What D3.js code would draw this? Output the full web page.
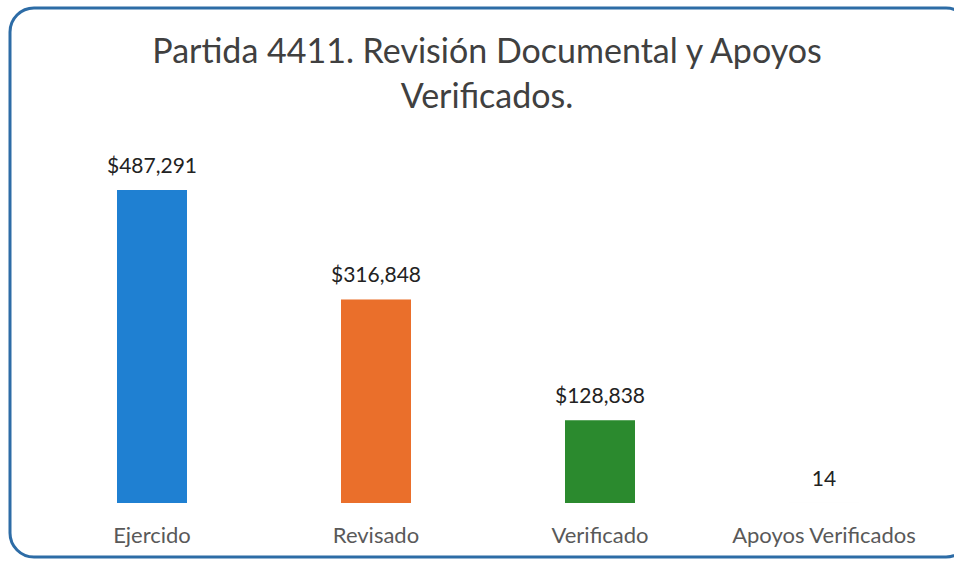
<!DOCTYPE html>
<html>
<head>
<meta charset="utf-8">
<script src="https://cdn.jsdelivr.net/npm/d3@7"></script>
<style>
  body { margin: 0; background: #fff; }
  svg { display: block; }
</style>
</head>
<body>
<div id="chart"></div>
<script>
var categories = ["Ejercido", "Revisado", "Verificado", "Apoyos Verificados"];
var values = [487291, 316848, 128838, 14];
var valueLabels = ["$487,291", "$316,848", "$128,838", "14"];
var colors = ["#1f80d2", "#ea6f2b", "#2b8a2e", "#7f7f7f"];
var titleLines = ["Partida 4411. Revisión Documental y Apoyos", "Verificados."];

var width = 954, height = 562;
var font = "Lato, 'Open Sans', sans-serif";

var svg = d3.select("#chart")
    .append("svg")
    .attr("width", width)
    .attr("height", height);

// frame
svg.append("rect")
    .attr("x", 10)
    .attr("y", 8)
    .attr("width", 960)
    .attr("height", 549)
    .attr("rx", 24)
    .attr("fill", "#fff")
    .attr("stroke", "#2d6ca6")
    .attr("stroke-width", 3);

// title
svg.append("g").selectAll("text")
    .data(titleLines)
    .enter()
    .append("text")
    .attr("x", 487)
    .attr("y", (d, i) => 63 + i * 45)
    .attr("text-anchor", "middle")
    .attr("font-family", font)
    .attr("font-size", 34)
    .attr("fill", "#404040")
    .text(d => d);

var x = d3.scaleBand()
    .domain(categories)
    .range([40, 936])
    .paddingInner(0.6875)
    .paddingOuter(0.34375);

var y = d3.scaleLinear()
    .domain([0, 487291])
    .range([503, 190]);

var g = svg.append("g");

g.selectAll("rect.bar")
    .data(values)
    .enter()
    .append("rect")
    .attr("class", "bar")
    .attr("x", (d, i) => x(categories[i]))
    .attr("y", d => y(d))
    .attr("width", x.bandwidth())
    .attr("height", d => y(0) - y(d))
    .attr("fill", (d, i) => colors[i]);

g.selectAll("text.val")
    .data(values)
    .enter()
    .append("text")
    .attr("class", "val")
    .attr("x", (d, i) => x(categories[i]) + x.bandwidth() / 2)
    .attr("y", d => y(d) - 17)
    .attr("text-anchor", "middle")
    .attr("font-family", font)
    .attr("font-size", 21)
    .attr("fill", "#222")
    .text((d, i) => valueLabels[i]);

g.selectAll("text.cat")
    .data(categories)
    .enter()
    .append("text")
    .attr("class", "cat")
    .attr("x", d => x(d) + x.bandwidth() / 2)
    .attr("y", 543)
    .attr("text-anchor", "middle")
    .attr("font-family", font)
    .attr("font-size", 22)
    .attr("fill", "#595959")
    .text(d => d);
</script>
</body>
</html>
